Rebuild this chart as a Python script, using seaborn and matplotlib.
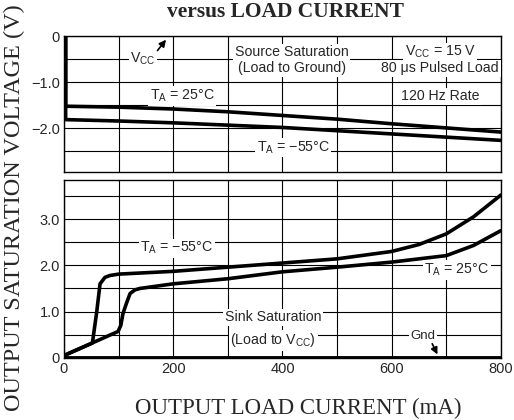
"""
Output saturation voltage versus load current (source / sink)
"""
import numpy as np
import pandas as pd
import matplotlib
matplotlib.use("Agg")
import matplotlib.pyplot as plt
import seaborn as sns

# Source saturation (load to ground), mA vs V
src_current = [3, 3, 100, 200, 300, 400, 500, 600, 700, 800]
src_25c = [0.0, -1.52, -1.54, -1.58, -1.64, -1.72, -1.80, -1.90, -1.99, -2.08]
src_m55c = [0.0, -1.81, -1.84, -1.88, -1.93, -1.98, -2.05, -2.12, -2.19, -2.26]

# Sink saturation (load to Vcc)
sink_current_m55 = [0, 52, 60, 66, 75, 84, 100, 200, 300, 400, 500, 600, 650, 700, 750, 800]
sink_m55c = [0.05, 0.32, 1.0, 1.6, 1.74, 1.78, 1.81, 1.87, 1.96, 2.05, 2.14, 2.30, 2.45, 2.68, 3.05, 3.52]
sink_current_25 = [0, 99, 104, 108, 115, 121, 130, 139, 200, 300, 400, 500, 600, 700, 750, 800]
sink_25c = [0.05, 0.57, 0.70, 0.96, 1.20, 1.39, 1.47, 1.50, 1.60, 1.71, 1.86, 1.96, 2.07, 2.21, 2.43, 2.75]
gnd_current = [0, 800]
gnd_volts = [0.0, 0.0]

x_ticks = [0, 200, 400, 600, 800]
top_ticks = [0, -1.0, -2.0]
top_tick_labels = ["0", "\u22121.0", "\u22122.0"]
bot_ticks = [0, 1.0, 2.0, 3.0]
bot_tick_labels = ["0", "1.0", "2.0", "3.0"]

sns.set_style("white")
plt.rcParams["font.family"] = ["Liberation Sans Narrow", "Liberation Sans", "DejaVu Sans"]
plt.rcParams["mathtext.fontset"] = "custom"
plt.rcParams["mathtext.rm"] = "Liberation Sans"
plt.rcParams["mathtext.it"] = "Liberation Sans"

fig = plt.figure(figsize=(5.14, 4.2), dpi=100)
ax_top = fig.add_axes([0.1245, 0.590, 0.850, 0.324])
ax_bot = fig.add_axes([0.1245, 0.148, 0.850, 0.424])

LW = 2.6
src_df = pd.DataFrame({"mA": src_current, "25": src_25c, "-55": src_m55c})
sns.lineplot(data=src_df, x="mA", y="25", ax=ax_top, color="black", lw=LW,
             sort=False, estimator=None)
sns.lineplot(data=src_df, x="mA", y="-55", ax=ax_top, color="black", lw=LW,
             sort=False, estimator=None)

sns.lineplot(x=sink_current_m55, y=sink_m55c, ax=ax_bot, color="black", lw=LW,
             sort=False, estimator=None)
sns.lineplot(x=sink_current_25, y=sink_25c, ax=ax_bot, color="black", lw=LW,
             sort=False, estimator=None)
sns.lineplot(x=gnd_current, y=gnd_volts, ax=ax_bot, color="black", lw=3.5,
             sort=False, estimator=None)

for ax in (ax_top, ax_bot):
    ax.set_xlim(0, 800)
    ax.set_xticks(x_ticks)
    ax.set_xticks(np.arange(0, 801, 100), minor=True)
    ax.grid(True, which="both", color="black", lw=0.8)
    ax.set_xlabel("")
    ax.set_ylabel("")
    for s in ax.spines.values():
        s.set_color("black")
        s.set_linewidth(1.0)
    ax.tick_params(which="both", length=0, labelsize=10.5, pad=3)
    ax.set_axisbelow(True)

ax_top.set_ylim(-2.95, 0)
ax_top.set_yticks(top_ticks)
ax_top.set_yticklabels(top_tick_labels)
ax_top.set_yticks(np.arange(-2.5, 0.01, 0.5), minor=True)
ax_top.set_xticklabels([])

ax_bot.set_ylim(0, 3.85)
ax_bot.set_yticks(bot_ticks)
ax_bot.set_yticklabels(bot_tick_labels)
ax_bot.set_yticks(np.arange(0, 3.6, 0.5), minor=True)

box = dict(facecolor="white", edgecolor="none", pad=1.0)
fs = 10.2

# top panel labels
ax_top.text(145, -0.50, "V$_{\\mathrm{CC}}$", ha="center", va="center", fontsize=fs, bbox=box)
ax_top.annotate("", xy=(190, -0.03), xytext=(168, -0.36),
                arrowprops=dict(arrowstyle="-|>", color="black", lw=1.2, mutation_scale=10))
ax_top.text(417, -0.35, "Source Saturation", ha="center", va="center", fontsize=fs, bbox=box)
ax_top.text(417, -0.70, "(Load to Ground)", ha="center", va="center", fontsize=fs, bbox=box)
ax_top.text(689, -0.35, "V$_{\\mathrm{CC}}$ = 15 V", ha="center", va="center", fontsize=fs, bbox=box)
ax_top.text(689, -0.70, "80 \u03bcs Pulsed Load", ha="center", va="center", fontsize=fs, bbox=box)
ax_top.text(689, -1.30, "120 Hz Rate", ha="center", va="center", fontsize=fs, bbox=box)
ax_top.text(216, -1.30, "T$_{\\mathrm{A}}$ = 25\u00b0C", ha="center", va="center", fontsize=fs, bbox=box)
ax_top.text(420, -2.42, "T$_{\\mathrm{A}}$ = \u221255\u00b0C", ha="center", va="center", fontsize=fs, bbox=box)

# bottom panel labels
ax_bot.text(207, 2.37, "T$_{\\mathrm{A}}$ = \u221255\u00b0C", ha="center", va="center", fontsize=fs, bbox=box)
ax_bot.text(719, 1.90, "T$_{\\mathrm{A}}$ = 25\u00b0C", ha="center", va="center", fontsize=fs, bbox=box)
ax_bot.text(383, 0.88, "Sink Saturation", ha="center", va="center", fontsize=fs, bbox=box)
ax_bot.text(383, 0.38, "(Load to V$_{\\mathrm{CC}}$)", ha="center", va="center", fontsize=fs, bbox=box)
ax_bot.text(658, 0.47, "Gnd", ha="center", va="center", fontsize=9.5, bbox=box)
ax_bot.annotate("", xy=(686, 0.02), xytext=(672, 0.36),
                arrowprops=dict(arrowstyle="-|>", color="black", lw=1.2, mutation_scale=10))

serif = ["Liberation Serif", "DejaVu Serif"]
fig.text(0.555, 0.972, "versus LOAD CURRENT", ha="center", va="center",
         fontsize=15.5, fontweight="bold", family=serif)
fig.text(0.58, 0.028, "OUTPUT LOAD CURRENT (mA)", ha="center", va="center",
         fontsize=16.5, family=serif)
fig.text(0.028, 0.505, "OUTPUT SATURATION VOLTAGE (V)", ha="center", va="center",
         rotation=90, fontsize=17.5, family=serif)

fig.savefig("out.png", dpi=100)
